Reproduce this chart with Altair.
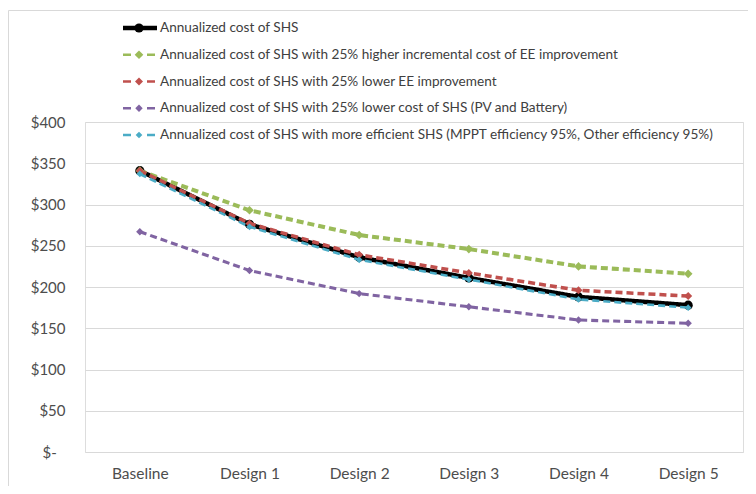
import altair as alt
import pandas as pd

designs = ["Baseline", "Design 1", "Design 2", "Design 3", "Design 4", "Design 5"]
series = [
    "Annualized cost of SHS",
    "Annualized cost of SHS with 25% higher incremental cost of EE improvement",
    "Annualized cost of SHS with 25% lower EE improvement",
    "Annualized cost of SHS with 25% lower cost of SHS (PV and Battery)",
    "Annualized cost of SHS with more efficient SHS (MPPT efficiency 95%, Other efficiency 95%)",
]
base_cost = [341, 276, 236, 211, 188, 178]
higher_incr = [341, 293, 263, 246, 225, 216]
lower_ee = [341, 277, 239, 217, 196, 189]
lower_shs = [267, 220, 192, 176, 160, 156]
efficient = [337, 273, 233, 209, 185, 175]
all_values = [base_cost, higher_incr, lower_ee, lower_shs, efficient]

colors = ["#000000", "#9BBB59", "#C0504D", "#8064A2", "#4BACC6"]
dashes = [[1, 0], [7, 4], [7, 4], [7, 4], [7, 4]]
widths = [4.5, 2.6, 2.6, 2.6, 2.6]
shapes = ["circle", "diamond", "diamond", "diamond", "diamond"]
sizes = [85, 45, 45, 45, 45]

rows = []
for s, vals in zip(series, all_values):
    for d, v in zip(designs, vals):
        rows.append({"design": d, "series": s, "value": v})
df = pd.DataFrame(rows)
legend_df = pd.DataFrame({"series": series, "rank": list(range(len(series)))})

FONT = "Lato"

x = alt.X(
    "design:N",
    sort=designs,
    scale=alt.Scale(type="point", padding=0.5),
    axis=alt.Axis(
        title=None, labelAngle=0, domain=False, ticks=False, grid=False,
        labelFont=FONT, labelFontSize=15.5, labelColor="#4d4d4d", labelPadding=14,
    ),
)
y = alt.Y(
    "value:Q",
    scale=alt.Scale(domain=[0, 400], nice=False),
    axis=alt.Axis(
        title=None, values=[0, 50, 100, 150, 200, 250, 300, 350, 400],
        labelExpr="datum.value == 0 ? '$-\u2007\u200b' : '$' + datum.value",
        domain=False, ticks=False, gridColor="#d9d9d9", gridWidth=1,
        labelFont=FONT, labelFontSize=15, labelColor="#4d4d4d", labelPadding=20,
    ),
)
color = alt.Color("series:N", scale=alt.Scale(domain=series, range=colors), legend=None)
shape = alt.Shape("series:N", scale=alt.Scale(domain=series, range=shapes), legend=None)
size = alt.Size("series:N", scale=alt.Scale(domain=series, range=sizes), legend=None)

base = alt.Chart(df).encode(x=x, y=y, color=color)
is_base = alt.datum.series == series[0]
not_base = alt.datum.series != series[0]

def line_layer(flt):
    return base.transform_filter(flt).mark_line().encode(
        strokeDash=alt.StrokeDash("series:N", scale=alt.Scale(domain=series, range=dashes), legend=None),
        strokeWidth=alt.StrokeWidth("series:N", scale=alt.Scale(domain=series, range=widths), legend=None),
    )

def point_layer(flt):
    return base.transform_filter(flt).mark_point(filled=True, opacity=1).encode(
        shape=shape, size=size
    )

main = alt.layer(line_layer(is_base), point_layer(is_base), line_layer(not_base), point_layer(not_base))

# legend, drawn from the same colour / shape scales; rows placed by a linear scale
ly = alt.Y("rank:Q", scale=alt.Scale(domain=[0, 4], range=[-94, 13]), axis=None)
leg = alt.Chart(legend_df).encode(y=ly, color=color)
leg_line = leg.mark_rule(strokeCap="butt").encode(
    x=alt.value(38), x2=alt.value(72),
    strokeWidth=alt.condition(is_base, alt.value(4.5), alt.value(2.6)),
    strokeDash=alt.condition(is_base, alt.value([1, 0]), alt.value([8, 16])),
)
leg_pt = leg.mark_point(filled=True, opacity=1).encode(x=alt.value(54), shape=shape, size=size)
leg_txt = leg.mark_text(align="left", baseline="middle", font=FONT, fontSize=13.6).encode(
    x=alt.value(75), text="series:N", color=alt.value("#404040")
)
legend = alt.layer(leg_line, leg_pt, leg_txt)

frame = alt.Chart(pd.DataFrame({"a": [0]})).mark_rect(
    fill=None, stroke="#d9d9d9", strokeWidth=1
).encode(
    x=alt.value(-76.5), x2=alt.value(700), y=alt.value(-111.5), y2=alt.value(600)
)

chart = alt.layer(frame, main, legend).resolve_scale(y="independent").properties(
    width=658,
    height=330,
    autosize=alt.AutoSizeParams(type="none"),
    padding={"left": 77, "top": 114, "right": 5, "bottom": 34},
).configure_view(stroke=None).configure(background="white")

chart.save("out.html", embed_options={"renderer": "svg", "actions": False})
